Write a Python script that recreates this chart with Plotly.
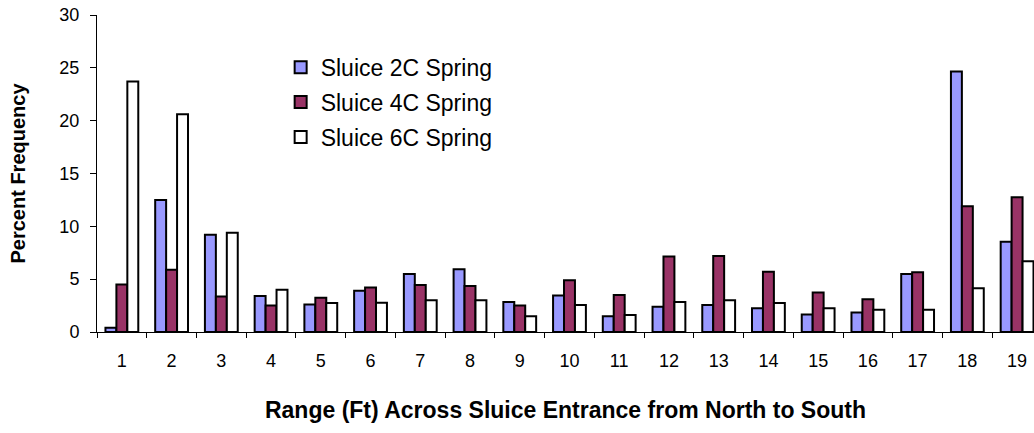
import plotly.graph_objects as go

categories = [str(i) for i in range(1, 20)]
sluice_2c = [0.4, 12.5, 9.2, 3.4, 2.6, 3.9, 5.5, 5.95, 2.85, 3.45, 1.5, 2.4, 2.55, 2.25, 1.65, 1.85, 5.5, 24.65, 8.55]
sluice_4c = [4.5, 5.9, 3.35, 2.5, 3.25, 4.2, 4.45, 4.35, 2.5, 4.9, 3.5, 7.15, 7.2, 5.7, 3.75, 3.1, 5.65, 11.9, 12.75]
sluice_6c = [23.7, 20.6, 9.4, 4.0, 2.75, 2.77, 3.0, 3.0, 1.5, 2.55, 1.6, 2.85, 3.0, 2.75, 2.25, 2.1, 2.1, 4.15, 6.7]

series = [
    ("Sluice 2C Spring", sluice_2c, "#9999FF"),
    ("Sluice 4C Spring", sluice_4c, "#993366"),
    ("Sluice 6C Spring", sluice_6c, "#FFFFFF"),
]

fig = go.Figure()
for name, vals, color in series:
    fig.add_trace(go.Bar(
        x=categories, y=vals, name=name, legendgroup=name,
        marker=dict(color=color, line=dict(color="black", width=2)),
    ))

font_family = "Liberation Sans, Arial, sans-serif"
fig.update_layout(
    width=1034, height=433,
    margin=dict(l=97, r=0, t=15, b=101),
    paper_bgcolor="white", plot_bgcolor="white",
    barmode="group", bargap=0.34, bargroupgap=0,
    font=dict(family=font_family, color="black"),
    showlegend=True,
    legend=dict(
        x=0.196, y=0.903, xanchor="left", yanchor="top",
        font=dict(size=23, family=font_family, color="black"),
        bgcolor="rgba(0,0,0,0)", borderwidth=0,
        traceorder="grouped", tracegroupgap=2,
    ),
    xaxis=dict(
        type="category", range=[-0.5, 18.34],
        showline=True, linecolor="black", linewidth=1,
        ticks="outside", tickson="boundaries", ticklen=5, tickcolor="black",
        tickfont=dict(size=18), showgrid=False, ticklabelstandoff=12,
        ticklabeloverflow="allow",
        title=dict(text="<b>Range (Ft) Across Sluice Entrance from North to South</b>",
                   font=dict(size=23), standoff=32),
    ),
    yaxis=dict(
        range=[0, 30], tickvals=[0, 5, 10, 15, 20, 25, 30],
        showline=True, linecolor="black", linewidth=1,
        ticks="outside", ticklen=6, tickcolor="black",
        tickfont=dict(size=18), showgrid=False, zeroline=False, ticklabelstandoff=7,
        ticklabeloverflow="allow",
        title=dict(text="<b>Percent Frequency</b>", font=dict(size=20), standoff=28),
    ),
)

# remove the browser's default page margin so the figure fills the window exactly
fig.write_html(
    "out.html",
    config={"displayModeBar": False},
    post_script="document.body.style.margin='0';document.body.style.overflow='hidden';",
)
